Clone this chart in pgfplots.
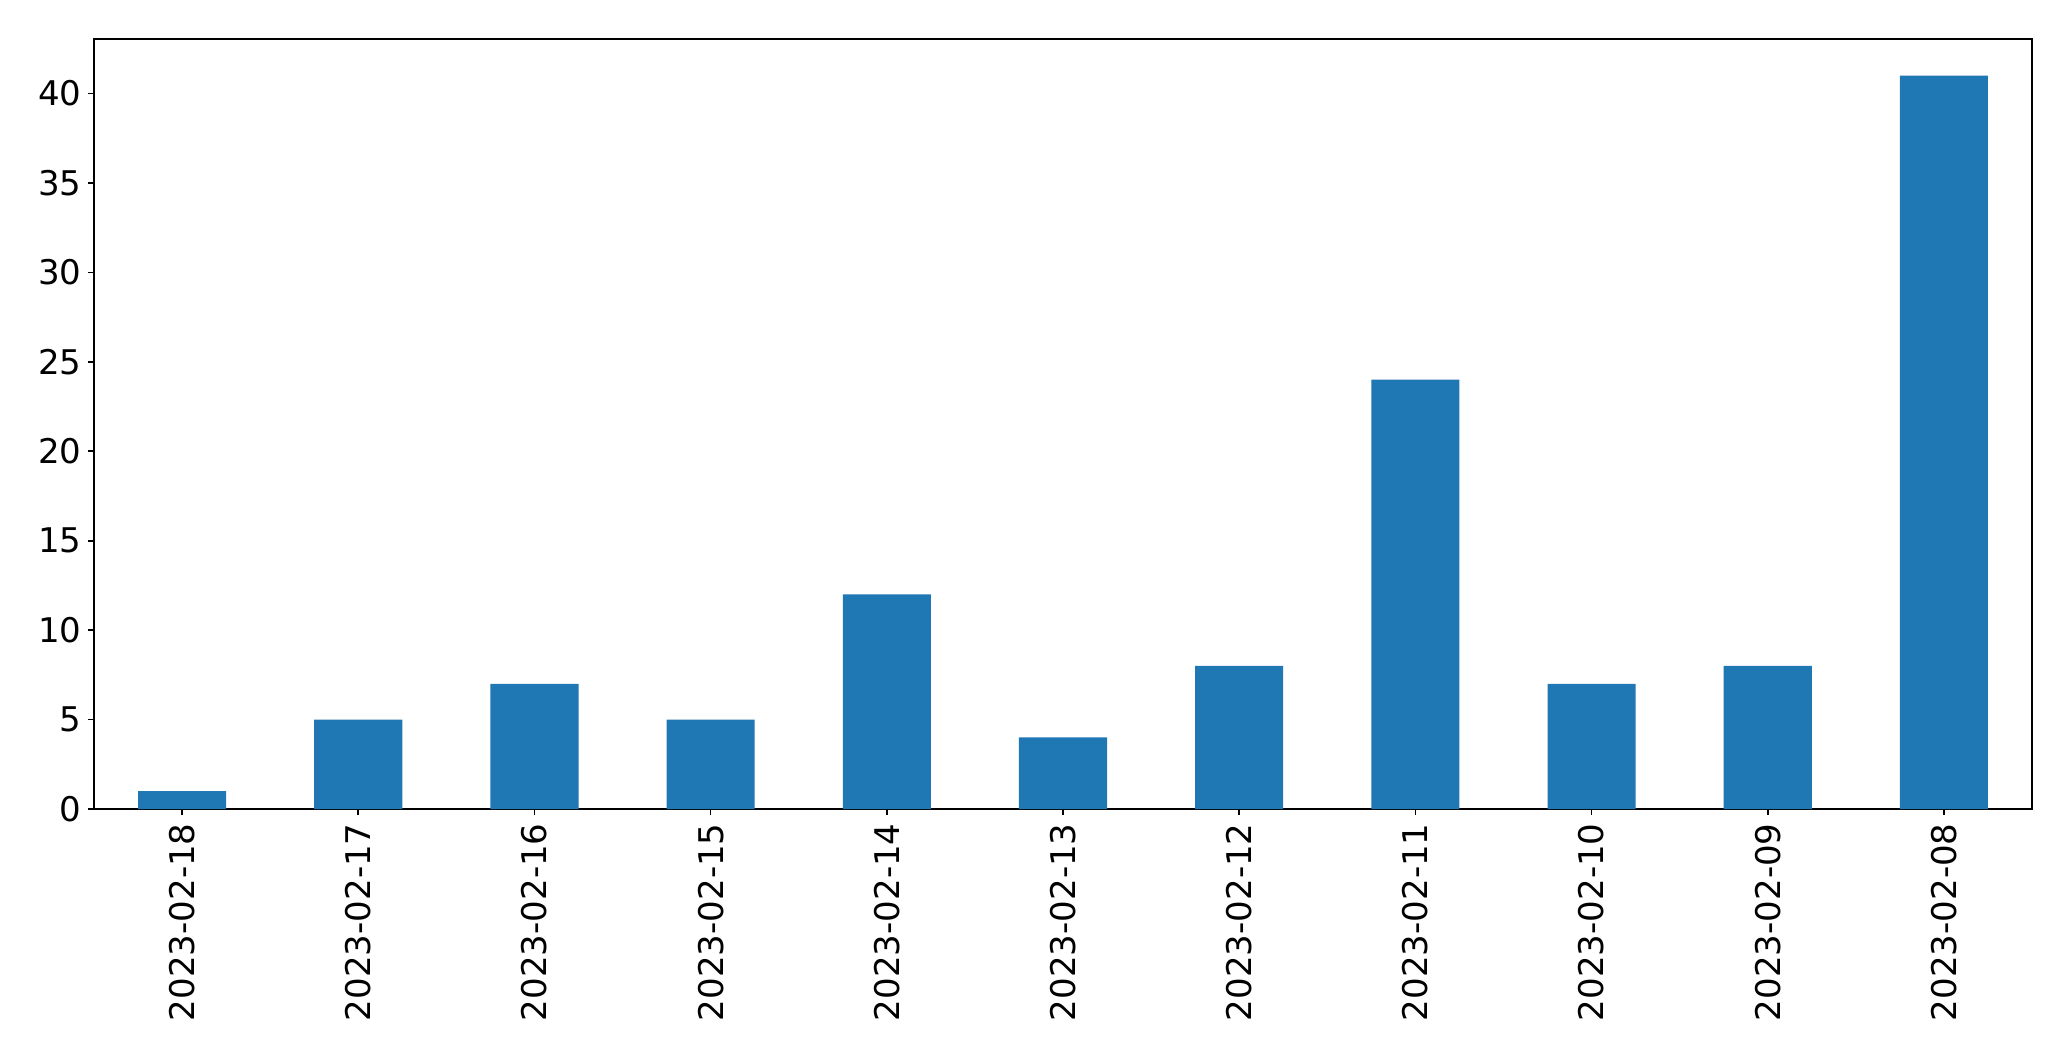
\documentclass[border=0pt]{standalone}
\usepackage{pgfplots}
\pgfplotsset{compat=1.18}
\usepackage{fontspec}
\setmainfont{DejaVu Sans}
\definecolor{barblue}{HTML}{1F77B4}
\begin{document}
\fontsize{17}{20}\selectfont
\begin{tikzpicture}
\begin{axis}[
  at={(0,0)}, anchor=south west,
  width=969pt, height=385pt, scale only axis,
  xmin=-0.5, xmax=10.5, ymin=0, ymax=43.05,
  xtick={0,...,10},
  xticklabels={2023-02-18,2023-02-17,2023-02-16,2023-02-15,2023-02-14,2023-02-13,2023-02-12,2023-02-11,2023-02-10,2023-02-09,2023-02-08},
  ytick={0,5,10,15,20,25,30,35,40},
  yticklabels={0,5,10,15,20,25,30,35,40},
  tick align=outside, major tick length=3pt,
  tick style={black, line width=0.8pt},
  axis line style={line width=0.8pt},
  xtick pos=bottom, ytick pos=left,
  /pgf/number format/assume math mode=true,
  ticklabel style={font=\fontsize{17}{20}\selectfont},
  xticklabel style={rotate=90, anchor=east, inner sep=0pt},
  xticklabel shift=4pt,
  yticklabel style={inner sep=0pt, anchor=east},
  yticklabel shift=3pt,
  ybar, bar width=0.5, 
]
\addplot[fill=barblue, draw=none] coordinates {
(0,1) (1,5) (2,7) (3,5) (4,12) (5,4) (6,8) (7,24) (8,7) (9,8) (10,41)
};
\end{axis}
\pgfresetboundingbox
\path[use as bounding box] (-47pt,-126pt) rectangle (988.5pt,404.5pt);
\end{tikzpicture}
\end{document}
